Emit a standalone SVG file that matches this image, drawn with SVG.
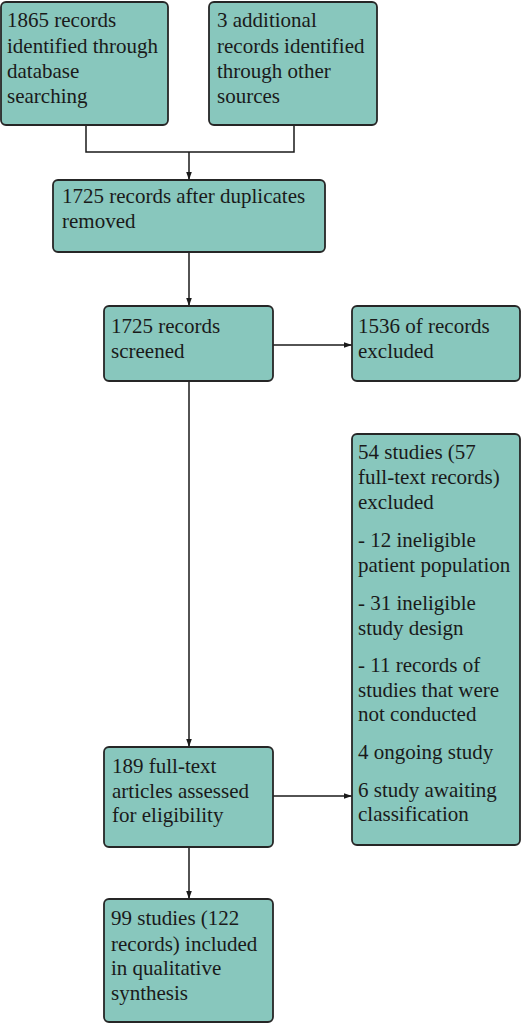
<svg xmlns="http://www.w3.org/2000/svg" width="522" height="1024" viewBox="0 0 522 1024">
<defs>
<marker id="arr" markerUnits="userSpaceOnUse" markerWidth="8" markerHeight="8" viewBox="0 0 8 8" refX="8" refY="4" orient="auto">
<path d="M0,1.2 L8,4 L0,6.8 Z" fill="#1a1a1a"/>
</marker>
<style>
.box{fill:#88c7bd;stroke:#262626;stroke-width:1.8}
.t{font-family:"Liberation Serif","Times New Roman",serif;font-size:21px;fill:#1a1a1a}
.c{fill:none;stroke:#1a1a1a;stroke-width:1.5}
</style>
</defs>
<rect width="522" height="1024" fill="#ffffff"/>
<g id="connectors">
<path class="c" d="M86,125 V152 H294 V125"/>
<path class="c" d="M189,152 V180" marker-end="url(#arr)"/>
<path class="c" d="M189,252 V306" marker-end="url(#arr)"/>
<path class="c" d="M273,345 H352" marker-end="url(#arr)"/>
<path class="c" d="M189,381 V747" marker-end="url(#arr)"/>
<path class="c" d="M273,796 H352" marker-end="url(#arr)"/>
<path class="c" d="M189,847 V899" marker-end="url(#arr)"/>
</g>
<g id="n1">
<rect class="box" x="1" y="2" width="167" height="123" rx="5"/>
<text class="t"><tspan x="7" y="27">1865 records</tspan><tspan x="7" y="53">identified through</tspan><tspan x="7" y="78">database</tspan><tspan x="7" y="103">searching</tspan></text>
</g>
<g id="n2">
<rect class="box" x="209" y="2" width="168" height="123" rx="5"/>
<text class="t"><tspan x="217" y="27">3 additional</tspan><tspan x="217" y="53">records identified</tspan><tspan x="217" y="78">through other</tspan><tspan x="217" y="103">sources</tspan></text>
</g>
<g id="n3">
<rect class="box" x="53" y="180" width="272" height="72" rx="5"/>
<text class="t"><tspan x="62" y="203">1725 records after duplicates</tspan><tspan x="62" y="228">removed</tspan></text>
</g>
<g id="n4">
<rect class="box" x="104" y="306" width="169" height="75" rx="5"/>
<text class="t"><tspan x="111" y="333">1725 records</tspan><tspan x="111" y="358">screened</tspan></text>
</g>
<g id="n5">
<rect class="box" x="352" y="306" width="168" height="75" rx="5"/>
<text class="t"><tspan x="358" y="333">1536 of records</tspan><tspan x="358" y="358">excluded</tspan></text>
</g>
<g id="n6">
<rect class="box" x="352" y="434" width="168" height="411" rx="5"/>
<text class="t"><tspan x="358" y="459">54 studies (57</tspan><tspan x="358" y="484">full-text records)</tspan><tspan x="358" y="509">excluded</tspan><tspan x="358" y="547">- 12 ineligible</tspan><tspan x="358" y="572">patient population</tspan><tspan x="358" y="610">- 31 ineligible</tspan><tspan x="358" y="635">study design</tspan><tspan x="358" y="672">- 11 records of</tspan><tspan x="358" y="697">studies that were</tspan><tspan x="358" y="721">not conducted</tspan><tspan x="358" y="759">4 ongoing study</tspan><tspan x="358" y="797">6 study awaiting</tspan><tspan x="358" y="821">classification</tspan></text>
</g>
<g id="n7">
<rect class="box" x="104" y="747" width="169" height="100" rx="5"/>
<text class="t"><tspan x="112" y="773">189 full-text</tspan><tspan x="112" y="798">articles assessed</tspan><tspan x="112" y="822">for eligibility</tspan></text>
</g>
<g id="n8">
<rect class="box" x="104" y="899" width="169" height="123" rx="5"/>
<text class="t"><tspan x="111" y="925">99 studies (122</tspan><tspan x="111" y="951">records) included</tspan><tspan x="111" y="975">in qualitative</tspan><tspan x="111" y="1000">synthesis</tspan></text>
</g>
</svg>
